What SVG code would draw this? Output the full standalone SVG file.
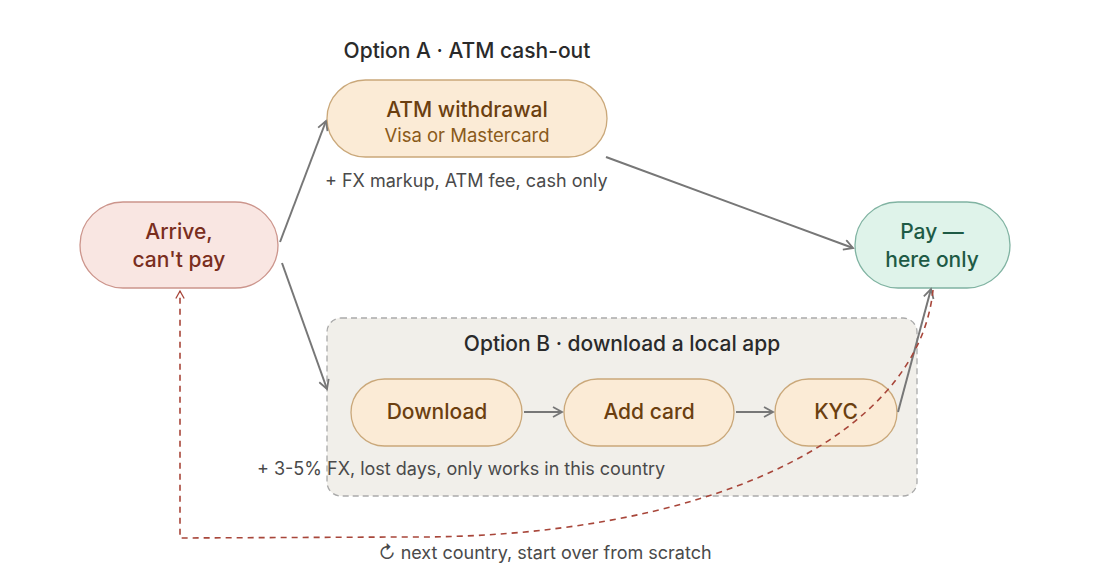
<svg xmlns="http://www.w3.org/2000/svg" width="1100" height="580" viewBox="0 0 1100 580">
<style>
text{font-family:Inter,"Liberation Sans",sans-serif;}
.t{font-size:21px;text-anchor:middle;font-weight:500;}
.note{font-size:18px;fill:#4a4a4a;}
.title{font-size:21px;text-anchor:middle;fill:#2a2a2a;font-weight:500;}
.conn{fill:none;stroke:#777;stroke-width:2;}
.loop{fill:none;stroke:#a8463a;stroke-width:1.6;stroke-dasharray:6 5;}
.amber{fill:#fbebd6;stroke:#caa87a;stroke-width:1.3;}
</style>
<defs>
<marker id="ah" viewBox="0 0 12 12" refX="10" refY="6" markerWidth="12" markerHeight="12" markerUnits="userSpaceOnUse" orient="auto">
<path d="M1,1 L10,6 L1,11" fill="none" stroke="#777" stroke-width="1.8"/>
</marker>
<marker id="ahr" viewBox="0 0 12 12" refX="10" refY="6" markerWidth="10" markerHeight="10" markerUnits="userSpaceOnUse" orient="auto">
<path d="M1,1 L10,6 L1,11" fill="none" stroke="#a8463a" stroke-width="1.6"/>
</marker>
</defs>
<rect width="1100" height="580" fill="#ffffff"/>

<g id="optionB">
<rect x="327" y="318" width="590" height="178" rx="14" fill="#f1efea" stroke="#aaa" stroke-width="1.3" stroke-dasharray="6 4"/>
<text class="title" x="622" y="351" fill="#444">Option B · download a local app</text>
</g>

<g id="arrive">
<rect x="80" y="202" width="198" height="86" rx="43" fill="#f9e6e2" stroke="#cc958c" stroke-width="1.3"/>
<text class="t" x="179" y="239" fill="#7a2e1e">Arrive,</text>
<text class="t" x="179" y="267" fill="#7a2e1e">can't pay</text>
</g>

<g id="atm">
<text class="title" x="467" y="58">Option A · ATM cash-out</text>
<rect class="amber" x="327" y="80" width="280" height="77" rx="38.5"/>
<text class="t" x="467" y="117" fill="#6b3f10">ATM withdrawal</text>
<text x="467" y="142" font-size="18.5" text-anchor="middle" fill="#8a5a1a">Visa or Mastercard</text>
<text class="note" x="325" y="187">+ FX markup, ATM fee, cash only</text>
</g>

<g id="pay">
<rect x="855" y="202" width="155" height="86" rx="43" fill="#dff3ea" stroke="#80b3a2" stroke-width="1.3"/>
<text class="t" x="932" y="239" fill="#1e5a45">Pay —</text>
<text class="t" x="932" y="267" fill="#1e5a45">here only</text>
</g>

<g id="download">
<rect class="amber" x="351" y="379" width="171" height="67" rx="33.5"/>
<text class="t" x="437" y="419" fill="#6b3f10">Download</text>
</g>
<g id="addcard">
<rect class="amber" x="564" y="379" width="170" height="67" rx="33.5"/>
<text class="t" x="649" y="419" fill="#6b3f10">Add card</text>
</g>
<g id="kyc">
<rect class="amber" x="775" y="379" width="122" height="67" rx="33.5"/>
<text class="t" x="836" y="419" fill="#6b3f10">KYC</text>
</g>

<g id="connectors">
<line class="conn" x1="280" y1="242" x2="326" y2="121" marker-end="url(#ah)"/>
<line class="conn" x1="282" y1="263" x2="327" y2="389" marker-end="url(#ah)"/>
<line class="conn" x1="606" y1="157" x2="853" y2="248" marker-end="url(#ah)"/>
<line class="conn" x1="524" y1="412" x2="562" y2="412" marker-end="url(#ah)"/>
<line class="conn" x1="736" y1="412" x2="773" y2="412" marker-end="url(#ah)"/>
<line class="conn" x1="898" y1="412" x2="931" y2="289" marker-end="url(#ah)"/>
<path class="loop" d="M 933 290 C 918 440 700 540 400 537 L 180 538 L 180 291" marker-end="url(#ahr)"/>
</g>

<text class="note" x="257" y="475">+ 3-5% FX, lost days, only works in this country</text>
<text class="note" x="545" y="559" text-anchor="middle">↻ next country, start over from scratch</text>
</svg>
